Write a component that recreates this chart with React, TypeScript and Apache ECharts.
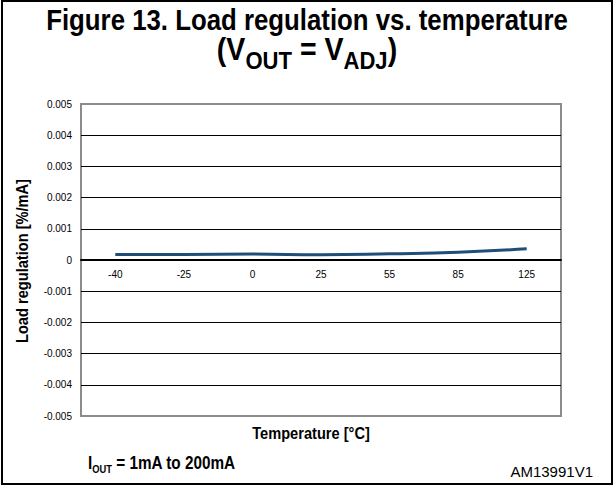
import React, { useEffect, useRef } from 'react';
import * as echarts from 'echarts';

const temperatures: string[] = ['-40', '-25', '0', '25', '55', '85', '125'];
const loadRegulation: number[] = [0.00018, 0.00018, 0.00019, 0.00017, 0.0002, 0.00025, 0.00036];
const yMin = -0.005;
const yMax = 0.005;
const yStep = 0.001;

export default function App() {
  const ref = useRef<HTMLDivElement>(null);
  useEffect(() => {
    document.body.style.margin = '0';
    const chart = echarts.init(ref.current!, null, { renderer: 'svg' });
    const sans = '"Liberation Sans", Arial, sans-serif';
    const gridTop = 104;
    const gridBottom = 70;
    const plotHeight = 486 - gridTop - gridBottom;
    // the category axis sits on the value 0 line
    const zeroOffset = -plotHeight * (0 - yMin) / (yMax - yMin);
    chart.setOption({
      animation: false,
      backgroundColor: '#ffffff',
      grid: {
        left: 81,
        right: 53,
        top: gridTop,
        bottom: gridBottom,
        show: true,
        borderColor: '#8c8c8c',
        borderWidth: 2,
        backgroundColor: 'transparent',
      },
      xAxis: {
        type: 'category',
        data: temperatures,
        boundaryGap: true,
        position: 'bottom',
        offset: zeroOffset,
        axisLine: { show: true, onZero: false, lineStyle: { color: '#000', width: 2 } },
        axisTick: { show: false },
        axisLabel: { color: '#000', fontSize: 10, fontFamily: sans, margin: 9 },
        splitLine: { show: false },
      },
      yAxis: {
        type: 'value',
        min: yMin,
        max: yMax,
        interval: yStep,
        axisLine: { show: false },
        axisTick: { show: false },
        axisLabel: {
          color: '#000',
          fontSize: 10,
          fontFamily: sans,
          margin: 9,
          formatter: (v: number) => (Math.abs(v) < 1e-9 ? '0' : v.toFixed(3)),
        },
        splitLine: { show: true, showMinLine: false, showMaxLine: false, lineStyle: { color: '#000', width: 1 } },
      },
      series: [
        {
          type: 'line',
          data: loadRegulation,
          smooth: true,
          symbol: 'none',
          lineStyle: { color: '#1f4e79', width: 3 },
          itemStyle: { color: '#1f4e79' },
        },
      ],
      graphic: [
        {
          type: 'rect',
          shape: { x: 2, y: 1, width: 610, height: 483 },
          style: { fill: 'none', stroke: '#000', lineWidth: 2 },
          silent: true,
        },
        {
          type: 'text',
          x: 307,
          y: 20,
          scaleX: 0.86,
          style: {
            text: 'Figure 13. Load regulation vs. temperature',
            fontFamily: sans,
            fontWeight: 'bold',
            fontSize: 30,
            fill: '#000',
            align: 'center',
            verticalAlign: 'middle',
          },
        },
        {
          type: 'text',
          x: 307,
          y: 49,
          scaleX: 0.92,
          style: {
            text: '{m|(V}{s|OUT}{m| = V}{s|ADJ}{m|)}',
            align: 'center',
            verticalAlign: 'middle',
            rich: {
              m: { fontFamily: sans, fontWeight: 'bold', fontSize: 31, fill: '#000', lineHeight: 48 },
              s: { fontFamily: sans, fontWeight: 'bold', fontSize: 24, fill: '#000', lineHeight: 48, verticalAlign: 'bottom' },
            },
          },
        },
        {
          type: 'text',
          x: 22,
          y: 261,
          rotation: Math.PI / 2,
          scaleX: 0.86,
          style: {
            text: 'Load regulation [%/mA]',
            fontFamily: sans,
            fontWeight: 'bold',
            fontSize: 17,
            fill: '#000',
            align: 'center',
            verticalAlign: 'middle',
          },
        },
        {
          type: 'text',
          x: 311,
          y: 433,
          scaleX: 0.86,
          style: {
            text: 'Temperature [°C]',
            fontFamily: sans,
            fontWeight: 'bold',
            fontSize: 17,
            fill: '#000',
            align: 'center',
            verticalAlign: 'middle',
          },
        },
        {
          type: 'text',
          x: 88,
          y: 463,
          scaleX: 0.85,
          style: {
            text: '{m|I}{s|OUT}{m| = 1mA to 200mA}',
            align: 'left',
            verticalAlign: 'middle',
            rich: {
              m: { fontFamily: sans, fontWeight: 'bold', fontSize: 18, fill: '#000', lineHeight: 24 },
              s: { fontFamily: sans, fontWeight: 'bold', fontSize: 11, fill: '#000', lineHeight: 24, verticalAlign: 'bottom' },
            },
          },
        },
        {
          type: 'text',
          x: 593,
          y: 471,
          style: {
            text: 'AM13991V1',
            fontFamily: sans,
            fontSize: 15,
            fill: '#000',
            align: 'right',
            verticalAlign: 'middle',
          },
        },
      ],
    });
    return () => chart.dispose();
  }, []);
  return <div ref={ref} style={{ width: 614, height: 486 }} />;
}
